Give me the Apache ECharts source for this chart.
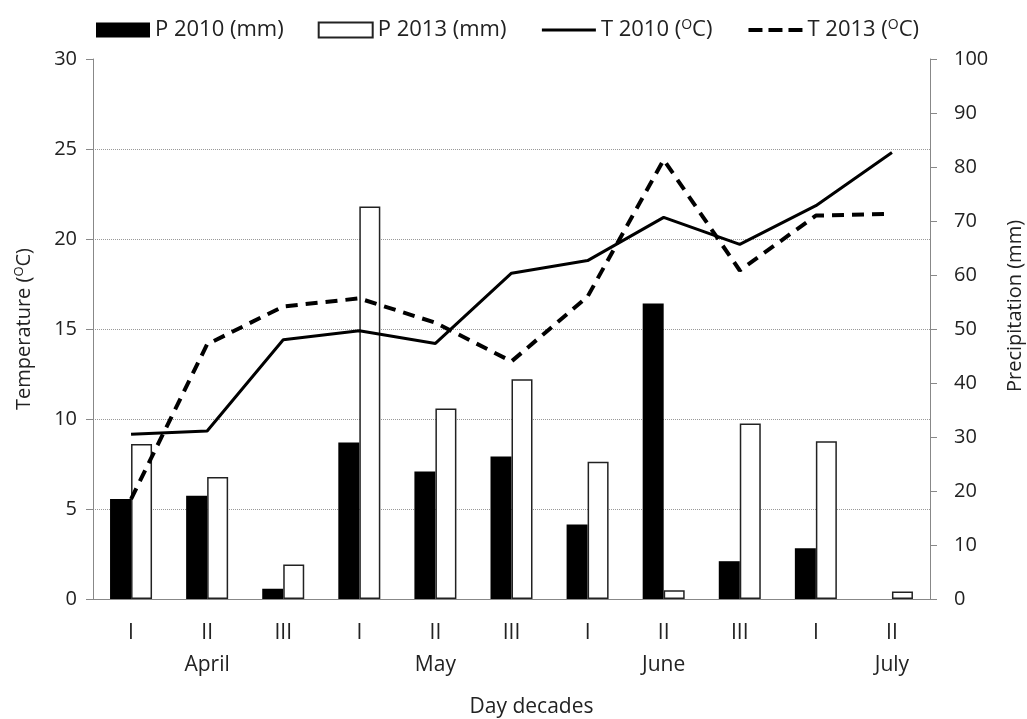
<!DOCTYPE html>
<html>
<head>
<meta charset="utf-8">
<script src="https://cdn.jsdelivr.net/npm/echarts@6/dist/echarts.min.js"></script>
<style>html,body{margin:0;padding:0;background:#fff}#c{width:1027px;height:719px}</style>
</head>
<body>
<div id="c"></div>
<script>
var decades = ['I','II','III','I','II','III','I','II','III','I','II'];
var months = ['','April','','','May','','','June','','','July'];
var p2010 = [18.5, 19.1, 1.9, 29.0, 23.6, 26.4, 13.8, 54.7, 7.0, 9.4, 0];
var p2013 = [28.7, 22.6, 6.4, 72.7, 35.3, 40.7, 25.4, 1.6, 32.5, 29.2, 1.4];
var t2010 = [9.15, 9.33, 14.4, 14.9, 14.2, 18.1, 18.8, 21.2, 19.7, 21.85, 24.8];
var t2013 = [5.55, 14.15, 16.25, 16.7, 15.35, 13.2, 16.8, 24.4, 18.25, 21.3, 21.4];
var tempTicks = [0, 5, 10, 15, 20, 25, 30];
var precTicks = [0, 10, 20, 30, 40, 50, 60, 70, 80, 90, 100];

var FONT = 'Open Sans';
var TXT = '#222';
var chart = echarts.init(document.getElementById('c'), null, {renderer: 'canvas'});
var supRich = {
  a: {fontFamily: FONT, fontSize: 22, color: TXT},
  s: {fontFamily: FONT, fontSize: 14, color: TXT, verticalAlign: 'top', padding: [0, 0, 10, 0]}
};
var axisRich = {
  a: {fontFamily: FONT, fontSize: 20, color: TXT},
  s: {fontFamily: FONT, fontSize: 13, color: TXT, padding: [0, 0, 10, 0]}
};
var option = {
  animation: false,
  backgroundColor: '#fff',
  textStyle: {fontFamily: FONT, color: TXT},
  legend: {
    left: 91, top: 13,
    itemWidth: 54, itemHeight: 15, itemGap: 34,
    textStyle: {fontFamily: FONT, fontSize: 22, color: TXT, rich: supRich},
    data: [
      {name: 'P 2010 (mm)', icon: 'rect'},
      {name: 'P 2013 (mm)', icon: 'rect'},
      {name: 'T 2010 (OC)', itemStyle: {opacity: 0}, lineStyle: {width: 3}},
      {name: 'T 2013 (OC)', itemStyle: {opacity: 0}, lineStyle: {width: 4, type: [14, 6]}}
    ],
    formatter: function (n) {
      if (n.indexOf('(OC)') >= 0) {
        return '{a|' + n.replace(' (OC)', ' (') + '}{s|O}{a|C)}';
      }
      return '{a|' + n + '}';
    }
  },
  grid: {left: 93, right: 97, top: 59, bottom: 120, containLabel: false, outerBoundsMode: 'none'},
  xAxis: {
    type: 'category',
    data: decades,
    name: 'Day decades',
    nameLocation: 'middle',
    nameGap: 98,
    nameTextStyle: {fontFamily: FONT, fontSize: 21, color: TXT, padding: [0, 0, 0, 40]},
    axisLine: {lineStyle: {color: '#888', width: 1}},
    axisTick: {length: 8, lineStyle: {color: '#888'}},
    axisLabel: {
      fontFamily: FONT, fontSize: 21, color: TXT, margin: 18, lineHeight: 32,
      formatter: function (v, i) { return v + '\n' + (months[i] || ' '); }
    }
  },
  yAxis: [
    {
      type: 'value', min: 0, max: 30, interval: 5,
      name: '{a|Temperature (}{s|O}{a|C)}',
      nameLocation: 'middle', nameRotate: 90, nameGap: 57,
      nameTextStyle: {rich: axisRich},
      axisLine: {show: true, lineStyle: {color: '#888'}},
      axisTick: {show: true, length: 7, lineStyle: {color: '#888'}},
      axisLabel: {fontFamily: FONT, fontSize: 20, color: TXT, margin: 16,
        formatter: function (v) { return tempTicks.indexOf(v) >= 0 ? String(v) : ''; }},
      splitLine: {show: true, showMaxLine: false, lineStyle: {color: '#999', type: 'dotted', width: 1}}
    },
    {
      type: 'value', min: 0, max: 100, interval: 10, position: 'right',
      name: 'Precipitation (mm)',
      nameLocation: 'middle', nameRotate: 90, nameGap: 75,
      nameTextStyle: {fontFamily: FONT, fontSize: 20, color: TXT, padding: [0, 0, 0, 46]},
      axisLine: {show: true, lineStyle: {color: '#888'}},
      axisTick: {show: true, length: 7, lineStyle: {color: '#888'}},
      axisLabel: {fontFamily: FONT, fontSize: 20, color: TXT, margin: 24,
        formatter: function (v) { return precTicks.indexOf(v) >= 0 ? String(v) : ''; }},
      splitLine: {show: false}
    }
  ],
  series: [
    {name: 'P 2010 (mm)', type: 'bar', yAxisIndex: 1, data: p2010, barWidth: 21, barGap: '0%',
      itemStyle: {color: '#000', borderWidth: 0}},
    {name: 'P 2013 (mm)', type: 'bar', yAxisIndex: 1, data: p2013, barWidth: 21, barGap: '0%',
      itemStyle: {color: '#fff', borderColor: '#222', borderWidth: 1.5}},
    {name: 'T 2010 (OC)', type: 'line', yAxisIndex: 0, data: t2010, symbol: 'none', z: 5,
      lineStyle: {color: '#000', width: 3}, itemStyle: {color: '#000'}},
    {name: 'T 2013 (OC)', type: 'line', yAxisIndex: 0, data: t2013, symbol: 'none', z: 6,
      lineStyle: {color: '#000', width: 4, type: [12, 8]}, itemStyle: {color: '#000'}}
  ]
};
chart.setOption(option);
</script>
</body>
</html>
